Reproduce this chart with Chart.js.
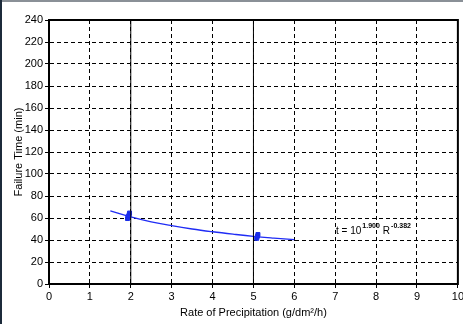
<!DOCTYPE html>
<html>
<head>
<meta charset="utf-8">
<script src="https://cdn.jsdelivr.net/npm/chart.js@4.4.0/dist/chart.umd.min.js"></script>
<style>
  html, body { margin: 0; padding: 0; background: #fff; overflow: hidden; }
  #wrap { position: absolute; left: 0; top: 0; width: 466px; height: 324px; }
</style>
</head>
<body>
<div id="wrap"><canvas id="failure-chart"></canvas></div>
<script>
// fitted curve
const curveX = [1.5, 2, 2.5, 3, 3.5, 4, 4.5, 5, 5.5, 6];
const curveY = [66.5, 61, 56.5, 53, 50, 47.5, 45.3, 43.3, 41.7, 40.3];

// measured points (clustered marks)
const measuredX = [1.92, 1.94, 1.96, 1.97, 5.08, 5.1, 5.11];
const measuredY = [59.5, 61.5, 63, 64.5, 41.5, 43.5, 45];

// solid vertical reference lines
const markerX = [2, 5];

const xTicks = [0, 1, 2, 3, 4, 5, 6, 7, 8, 9, 10];
const yMax = 240;
const yStep = 20;

const exponentA = '1.900';
const exponentB = '-0.382';

const fontFamily = '"Liberation Sans", Arial, sans-serif';

const frame = {
    id: 'frame',
    beforeDraw(chart) {
        const ctx = chart.ctx;
        ctx.save();
        ctx.fillStyle = '#fff';
        ctx.fillRect(0, 0, chart.width, chart.height);
        ctx.fillStyle = '#8a9097';
        ctx.fillRect(0, 0, chart.width, 2);
        ctx.fillStyle = '#1c2a3a';
        ctx.fillRect(0, 0, 2, chart.height);
        ctx.restore();
    },
    afterDraw(chart) {
        const ctx = chart.ctx;
        const a = chart.chartArea;
        ctx.save();
        ctx.strokeStyle = '#000';
        ctx.lineWidth = 2;
        ctx.strokeRect(a.left, a.top, a.right - a.left, a.bottom - a.top);

        // equation label
        const xs = chart.scales.x, ys = chart.scales.y;
        let x = xs.getPixelForValue(7.02);
        const y = ys.getPixelForValue(45.5);
        ctx.fillStyle = '#000';
        ctx.textBaseline = 'alphabetic';
        ctx.font = '10px ' + fontFamily;
        ctx.fillText('t = 10', x, y);
        x += ctx.measureText('t = 10').width + 1;
        ctx.font = 'bold 7px ' + fontFamily;
        ctx.fillText(exponentA, x, y - 6);
        x += ctx.measureText(exponentA).width + 3;
        ctx.font = '10px ' + fontFamily;
        ctx.fillText('R', x, y);
        x += ctx.measureText('R').width + 1;
        ctx.font = 'bold 7px ' + fontFamily;
        ctx.fillText(exponentB, x, y - 6);
        ctx.restore();
    }
};

const markerSets = markerX.map(v => ({
    type: 'line',
    data: [{x: v, y: 0}, {x: v, y: yMax}],
    borderColor: '#000',
    borderWidth: 1,
    pointRadius: 0
}));

new Chart(document.getElementById('failure-chart'), {
    type: 'scatter',
    data: {
        datasets: [
            ...markerSets,
            {
                type: 'line',
                data: curveX.map((v, i) => ({x: v, y: curveY[i]})),
                borderColor: '#1f2cf5',
                borderWidth: 1.3,
                pointRadius: 0,
                tension: 0.4
            },
            {
                data: measuredX.map((v, i) => ({x: v, y: measuredY[i]})),
                backgroundColor: '#1a2ee8',
                borderColor: '#1a2ee8',
                pointStyle: 'rect',
                pointRadius: 2.8
            }
        ]
    },
    plugins: [frame],
    options: {
        responsive: true,
        maintainAspectRatio: false,
        animation: false,
        layout: { padding: { left: 8, top: 20, right: 6, bottom: 0 } },
        plugins: { legend: { display: false }, tooltip: { enabled: false } },
        scales: {
            x: {
                type: 'linear',
                min: 0,
                max: 10,
                afterBuildTicks: s => { s.ticks = xTicks.map(v => ({value: v})); },
                afterFit: s => { s.height = 40; },
                ticks: { color: '#000', font: { family: fontFamily, size: 11 }, padding: 2 },
                grid: { color: '#000', lineWidth: 1, tickLength: 4, tickColor: '#000' },
                border: { dash: [4, 3], color: '#000', width: 2 },
                title: {
                    display: true,
                    text: 'Rate of Precipitation (g/dm²/h)',
                    color: '#000',
                    font: { family: fontFamily, size: 11 },
                    padding: { top: 3 }
                }
            },
            y: {
                min: 0,
                max: yMax,
                afterFit: s => { s.width = 41; },
                ticks: { stepSize: yStep, color: '#000', font: { family: fontFamily, size: 11 }, padding: 2 },
                grid: { color: '#000', lineWidth: 1, tickLength: 4, tickColor: '#000' },
                border: { dash: [4, 3], color: '#000', width: 2 },
                title: {
                    display: true,
                    text: 'Failure Time (min)',
                    color: '#000',
                    font: { family: fontFamily, size: 11 },
                    padding: { bottom: 0 }
                }
            }
        }
    }
});
</script>
</body>
</html>
